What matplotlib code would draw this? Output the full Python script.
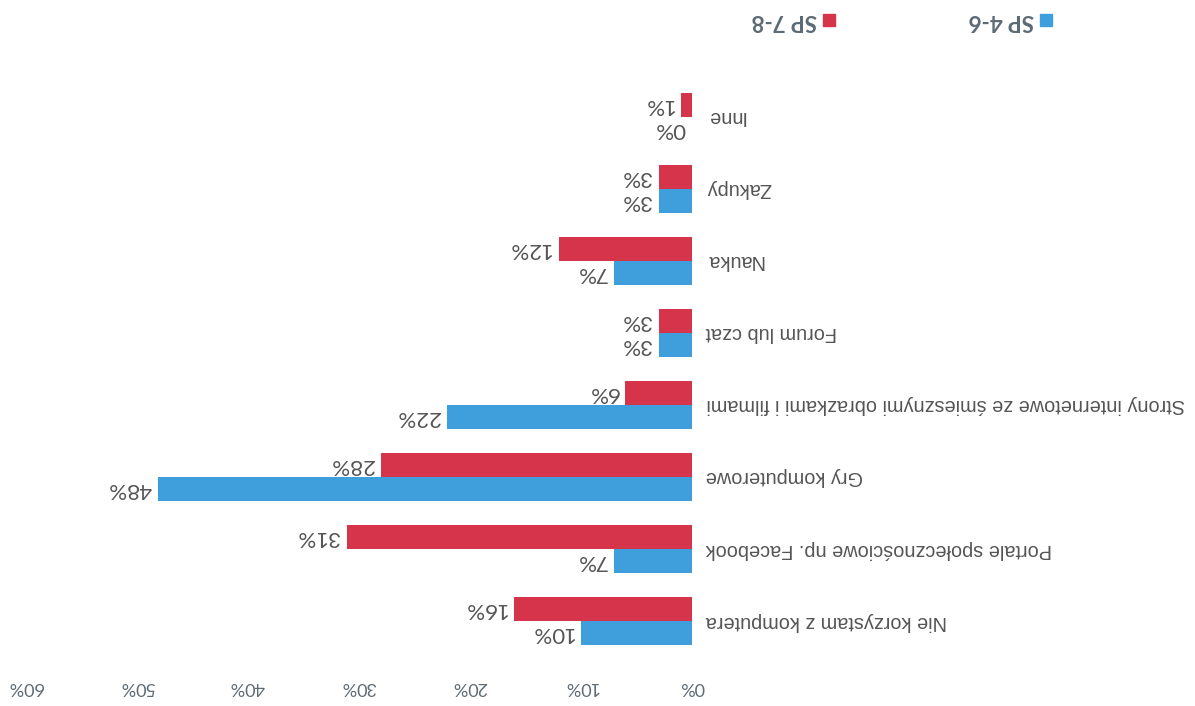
import matplotlib.pyplot as plt
from matplotlib.patches import Rectangle
import numpy as np

# the scan is upside down, so the whole chart is drawn rotated by 180 degrees
categories = [
    "Nie korzystam z komputera",
    "Portale społecznościowe np. Facebook",
    "Gry komputerowe",
    "Strony internetowe ze śmiesznymi obrazkami i filmami",
    "Forum lub czat",
    "Nauka",
    "Zakupy",
    "Inne",
]
sp46 = [10, 7, 48, 22, 3, 7, 3, 0]
sp78 = [16, 31, 28, 6, 3, 12, 3, 1]
series_names = ["SP 4-6", "SP 7-8"]
xticks = [0, 10, 20, 30, 40, 50, 60]

blue = "#3f9fdc"
red = "#d6344b"
txt = "#555555"
tick_col = "#5c6a75"

W, H = 1195, 706
fig = plt.figure(figsize=(W / 100, H / 100), dpi=100)
ax = fig.add_axes([25 / W, (H - 665) / H, (692 - 25) / W, (665 - 70) / H])

y = np.arange(len(categories))
h = 0.33
ax.barh(y - h / 2, sp46, height=h, color=blue)
ax.barh(y + h / 2, sp78, height=h, color=red)

ax.set_xlim(60, 0)
ax.set_ylim(-0.61, 7.65)

for sp in ax.spines.values():
    sp.set_visible(False)
ax.set_yticks([])
ax.set_xticks(xticks)
ax.set_xticklabels([f"{t}%" for t in xticks], rotation=180, color=tick_col,
                   fontsize=13, fontfamily="Lato")
ax.tick_params(axis="x", length=0, pad=10)

# category labels, right of the zero line once rotated
for i, c in enumerate(categories):
    ax.annotate(c, (0, i), xytext=(10, 0), textcoords="offset points",
                ha="left", va="center", rotation=180, fontsize=14.3,
                color=txt, fontfamily="Liberation Sans")

# value labels
for vals, off in ((sp46, -h / 2), (sp78, h / 2)):
    for i, v in enumerate(vals):
        ax.annotate(f"{v}%", (v, i + off), xytext=(-5, 0),
                    textcoords="offset points", ha="right", va="center",
                    rotation=180, fontsize=16, color=txt, fontfamily="Lato")

# legend, drawn by hand so it reads upside down like the scan
for name, col, xr in ((series_names[0], blue, 1052), (series_names[1], red, 835)):
    fig.add_artist(Rectangle(((xr - 12) / W, (H - 26) / H), 12 / W, 12 / H,
                             transform=fig.transFigure, color=col))
    fig.text((xr - 18) / W, (H - 20) / H, name, rotation=180, ha="right",
             va="center", fontsize=16, fontweight="bold", color=tick_col,
             fontfamily="Lato")

fig.savefig("out.png", dpi=100, facecolor="white")
